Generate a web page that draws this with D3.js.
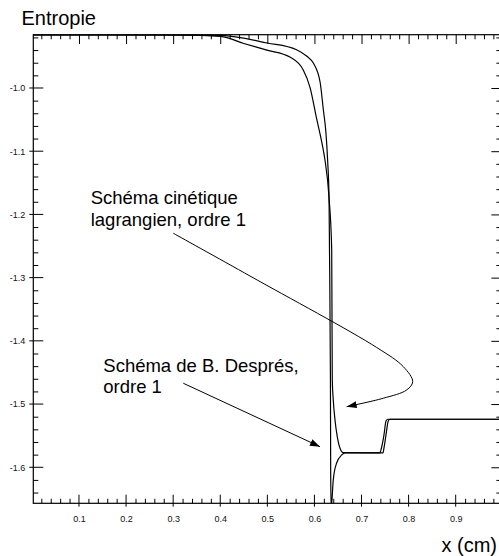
<!DOCTYPE html>
<html>
<head>
<meta charset="utf-8">
<script src="https://cdn.jsdelivr.net/npm/d3@7/dist/d3.min.js"></script>
<style>
  html, body { margin: 0; padding: 0; background: #fff; }
  svg { display: block; }
  text { font-family: "Liberation Sans", Arial, Helvetica, sans-serif; }
</style>
</head>
<body>
<svg id="chart" width="499" height="556"></svg>
<script>
// ---- data (x in cm, entropy values) ----
const despresX = [0.003, 0.320, 0.401, 0.500, 0.562, 0.584, 0.598, 0.612, 0.619, 0.6245, 0.628, 0.631, 0.632, 0.634, 0.6345, 0.6355, 0.640, 0.647, 0.658, 0.665, 0.739, 0.7413, 0.7477, 0.752, 0.756, 0.997];
const despresY = [-0.916, -0.9161, -0.9168, -0.9288, -0.9394, -0.9499, -0.9609, -0.9905, -1.0348, -1.0712, -1.1139, -1.1724, -1.2563, -1.4619, -1.6042, -1.665, -1.620, -1.5936, -1.5805, -1.5773, -1.5773, -1.5726, -1.5489, -1.5267, -1.524, -1.524];

const cinetiqueX = [0.003, 0.320, 0.401, 0.450, 0.499, 0.548, 0.5763, 0.5906, 0.6048, 0.6188, 0.6224, 0.6309, 0.6367, 0.6379, 0.640, 0.6437, 0.6485, 0.6543, 0.6613, 0.7456, 0.7477, 0.752, 0.7568, 0.7604, 0.997];
const cinetiqueY = [-0.916, -0.9163, -0.9185, -0.9296, -0.9400, -0.9510, -0.9715, -0.9990, -1.0490, -1.0981, -1.1139, -1.1724, -1.2563, -1.4619, -1.4935, -1.5252, -1.5516, -1.5699, -1.5769, -1.5773, -1.5694, -1.5489, -1.5267, -1.524, -1.524];

const xTickValues = [0.1, 0.2, 0.3, 0.4, 0.5, 0.6, 0.7, 0.8, 0.9];
const xTickLabels = ["0.1", "0.2", "0.3", "0.4", "0.5", "0.6", "0.7", "0.8", "0.9"];
const yTickValues = [-1.0, -1.1, -1.2, -1.3, -1.4, -1.5, -1.6];
const yTickLabels = ["-1.0", "-1.1", "-1.2", "-1.3", "-1.4", "-1.5", "-1.6"];

// annotation arrows (data coordinates)
const arrowCinetiqueX = [0.3003, 0.4631, 0.7322, 0.7887, 0.8087, 0.7959, 0.7462, 0.6685];
const arrowCinetiqueY = [-1.2298, -1.2974, -1.4105, -1.4408, -1.4646, -1.4777, -1.4908, -1.5041];
const arrowDespresX = [0.3215, 0.6118];
const arrowDespresY = [-1.4671, -1.5674];

// ---- layout ----
const svg = d3.select("#chart");
const xDomain = [0.003, 0.997];
const yDomain = [-1.657, -0.9157];
const pLeft = 33.3, pTop = 34.7, pBottom = 503.3;
const pRight = pLeft + (xDomain[1] - xDomain[0]) * 470.9;

const x = d3.scaleLinear().domain(xDomain).range([pLeft, pRight]);
const y = d3.scaleLinear().domain(yDomain).range([pBottom, pTop]);

const defs = svg.append("defs");
defs.append("clipPath").attr("id", "clip")
  .append("rect").attr("x", pLeft).attr("y", pTop)
  .attr("width", pRight - pLeft).attr("height", pBottom - pTop);
defs.append("marker").attr("id", "arrow")
  .attr("markerUnits", "userSpaceOnUse")
  .attr("markerWidth", 11).attr("markerHeight", 8)
  .attr("refX", 10).attr("refY", 3.5).attr("orient", "auto")
  .append("path").attr("d", "M0,0 L10,3.5 L0,7 Z").attr("fill", "#000");

// ---- axes ----
const xMinor = d3.range(0.02, 0.99, 0.02).filter(v => Math.abs(v * 10 - Math.round(v * 10)) > 1e-6);
const yMinor = d3.range(-0.92, -1.65, -0.02).filter(v => Math.abs(v * 10 - Math.round(v * 10)) > 1e-6);

function addAxis(axisFn, scale, vals, len, transform) {
  const g = svg.append("g").attr("transform", transform);
  const ax = axisFn(scale).tickValues(vals).tickSizeInner(len).tickSizeOuter(0).tickFormat("");
  g.call(ax);
  g.select(".domain").remove();
  g.selectAll(".tick line").attr("stroke", "#000").attr("stroke-width", 1);
  return g;
}

// bottom axis
addAxis(d3.axisTop, x, xMinor, 4.5, `translate(0,${pBottom})`);
const gbM = svg.append("g").attr("transform", `translate(0,${pBottom})`);
gbM.selectAll("line").data(xTickValues).join("line")
  .attr("x1", d => x(d)).attr("x2", d => x(d)).attr("y1", 3.4).attr("y2", -8.6)
  .attr("stroke", "#000");
const xLab = d3.axisBottom(x).tickValues(xTickValues).tickFormat((d, i) => xTickLabels[i]).tickSize(0).tickPadding(12);
const gxl = svg.append("g").attr("transform", `translate(0,${pBottom})`).call(xLab);
gxl.select(".domain").remove();
gxl.selectAll("text").attr("font-size", 9).attr("fill", "#111")
  .attr("font-family", "'Liberation Sans', Arial, sans-serif");

// top axis
addAxis(d3.axisBottom, x, xMinor, 4.6, `translate(0,${pTop})`);
addAxis(d3.axisBottom, x, xTickValues, 9.3, `translate(0,${pTop})`);

// left axis
addAxis(d3.axisRight, y, yMinor, 5, `translate(${pLeft},0)`);
const glM = svg.append("g").attr("transform", `translate(${pLeft},0)`);
glM.selectAll("line").data(yTickValues).join("line")
  .attr("x1", -4).attr("x2", 10).attr("y1", d => y(d)).attr("y2", d => y(d))
  .attr("stroke", "#000");
const yLab = d3.axisLeft(y).tickValues(yTickValues).tickFormat((d, i) => yTickLabels[i]).tickSize(0).tickPadding(8);
const gyl = svg.append("g").attr("transform", `translate(${pLeft},0)`).call(yLab);
gyl.select(".domain").remove();
gyl.selectAll("text").attr("font-size", 9).attr("fill", "#111")
  .attr("font-family", "'Liberation Sans', Arial, sans-serif");

// right axis
addAxis(d3.axisLeft, y, yMinor, 5, `translate(${pRight},0)`);
addAxis(d3.axisLeft, y, yTickValues, 10, `translate(${pRight},0)`);

// frame
svg.append("rect").attr("x", pLeft).attr("y", pTop)
  .attr("width", pRight - pLeft).attr("height", pBottom - pTop)
  .attr("fill", "none").attr("stroke", "#000").attr("stroke-width", 1.2);

// ---- curves ----
const line = d3.line().x(d => x(d[0])).y(d => y(d[1])).curve(d3.curveMonotoneX);
const series = [
  d3.zip(despresX, despresY),
  d3.zip(cinetiqueX, cinetiqueY)
];
svg.append("g").attr("clip-path", "url(#clip)")
  .selectAll("path").data(series).join("path")
  .attr("d", line).attr("fill", "none").attr("stroke", "#000").attr("stroke-width", 1.2);

// ---- annotations ----
const aline = d3.line().x(d => x(d[0])).y(d => y(d[1])).curve(d3.curveCatmullRom.alpha(0.5));
svg.append("path").datum(d3.zip(arrowCinetiqueX, arrowCinetiqueY))
  .attr("d", aline).attr("fill", "none").attr("stroke", "#000").attr("stroke-width", 1)
  .attr("marker-end", "url(#arrow)");
svg.append("path").datum(d3.zip(arrowDespresX, arrowDespresY))
  .attr("d", d3.line().x(d => x(d[0])).y(d => y(d[1])))
  .attr("fill", "none").attr("stroke", "#000").attr("stroke-width", 1)
  .attr("marker-end", "url(#arrow)");

const fs = 18.5;
function label(lines, px, py, lh) {
  const t = svg.append("text").attr("x", px).attr("y", py).attr("font-size", fs).attr("fill", "#000");
  lines.forEach((s, i) => t.append("tspan").attr("x", px).attr("dy", i === 0 ? 0 : lh).text(s));
}
label(["Schéma cinétique", "lagrangien, ordre 1"], 90.7, 204.3, 21.7);
label(["Schéma de B. Després,", "ordre 1"], 103.3, 371.7, 21);

svg.append("text").attr("x", 21.5).attr("y", 25).attr("font-size", 20).text("Entropie");
svg.append("text").attr("x", 497).attr("y", 551.5).attr("font-size", 20)
  .attr("text-anchor", "end").text("x (cm)");
</script>
</body>
</html>
